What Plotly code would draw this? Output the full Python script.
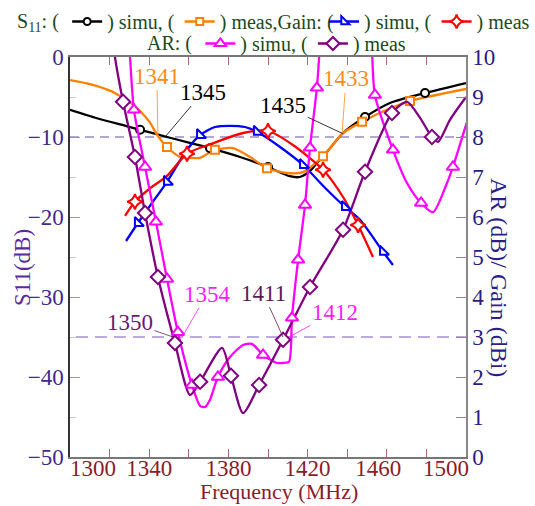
import plotly.graph_objects as go

# ---------------- data ----------------
# S11 simulated (black, circles) - left axis, dB
s11_sim_f = [1300, 1315, 1328, 1335.4, 1349, 1360, 1370.7, 1385.9, 1400, 1411, 1416,
             1421, 1424.7, 1430, 1437.9, 1449, 1461.6, 1479.3, 1500]
s11_sim = [-6.6, -7.75, -8.6, -9.1, -10.0, -10.7, -11.4, -12.5, -13.75, -14.9, -15.0,
           -14.3, -13.25, -11.8, -9.5, -7.5, -5.75, -4.5, -3.25]
s11_sim_mk = [3, 6, 8, 15, 17]

# S11 measured (orange, squares)
s11_meas_f = [1300, 1310, 1321, 1326, 1331, 1336, 1340.4, 1344.4, 1349, 1355.6, 1360.6,
              1365.7, 1370.7, 1373.2, 1382.3, 1390.9, 1399.5, 1409.6, 1417.7, 1427.8,
              1437.9, 1447.5, 1460, 1471.7, 1500]
s11_meas = [-2.9, -3.4, -4.3, -5.0, -5.8, -6.9, -8.2, -9.9, -11.25, -12.5, -12.6,
            -12.6, -11.9, -11.6, -11.4, -12.5, -13.9, -14.5, -14.4, -12.4,
            -9.5, -8.1, -6.6, -5.5, -4.0]
s11_meas_mk = [8, 13, 16, 19, 21, 23]

# Gain simulated (blue) - right axis, dBi
g_sim_f = [1328.3, 1334.3, 1341, 1349, 1359.1, 1365.7, 1373.2, 1380.8, 1388.4, 1394.4,
           1406.1, 1417.7, 1429.8, 1438.9, 1446.5, 1458.1, 1463.1]
g_sim = [5.4, 5.85, 6.32, 6.88, 7.68, 8.05, 8.25, 8.28, 8.25, 8.13,
         7.75, 7.3, 6.68, 6.25, 5.93, 5.13, 4.8]
g_sim_mk = [1, 3, 5, 9, 11, 13, 15]

# Gain measured (red)
g_meas_f = [1327.8, 1332.8, 1340, 1349, 1359.1, 1374.2, 1387.4, 1400, 1412.6, 1427.8,
            1437.9, 1445.5, 1453]
g_meas = [6.03, 6.38, 6.7, 7.03, 7.58, 7.88, 8.1, 8.15, 7.8, 7.18, 6.5, 5.8, 5.0]
g_meas_mk = [1, 4, 7, 9, 11]

# AR simulated (magenta, triangles)
ar_sim_f = [1328.5, 1330.3, 1332.3, 1337.9, 1343.4, 1349, 1354.5, 1361.6, 1365.7, 1368.2,
            1370.7, 1374.7, 1380.8, 1387.4, 1391.9, 1397.5, 1404.5, 1407.6, 1410.6, 1412.1,
            1415.2, 1418.7, 1421.2, 1424.7, 1427.5, 1440, 1451, 1452.5, 1454, 1463.1,
            1470.2, 1477.3, 1483.3, 1490.4, 1493.4, 1499.5, 1501]
ar_sim = [11.2, 10.0, 8.68, 7.25, 5.88, 4.45, 3.12, 1.8, 1.28, 1.25,
          1.43, 2.0, 2.5, 2.8, 2.83, 2.55, 2.35, 2.35, 2.38, 3.48,
          4.93, 6.3, 7.73, 9.23, 10.8, 13.0, 11.2, 10.17, 9.05, 7.68,
          6.85, 6.35, 6.12, 6.85, 7.25, 8.22, 8.45]
ar_sim_mk = [2, 3, 4, 5, 6, 7, 11, 15, 19, 20, 21, 22, 23, 28, 29, 31, 34]

# AR measured (purple, diamonds)
ar_meas_f = [1321, 1322.7, 1326.8, 1332.8, 1337.9, 1344.4, 1353, 1360.6, 1365.7, 1376.8,
             1381.3, 1387.4, 1395.5, 1407.6, 1421.2, 1437.9, 1449, 1462.6, 1470.2, 1476.8,
             1482.8, 1485.9, 1491.9, 1500]
ar_meas = [10.8, 10.0, 8.88, 7.5, 6.1, 4.5, 2.85, 1.55, 1.88, 2.73,
           2.03, 1.1, 1.8, 2.93, 4.25, 5.68, 7.13, 8.6, 8.88, 8.48,
           8.0, 7.88, 8.43, 9.0]
ar_meas_mk = [2, 3, 4, 5, 6, 8, 10, 12, 13, 14, 15, 16, 17, 20]

NB = "\u00a0"
x_ticks = list(range(1300, 1501, 20))
x_labels = {1300: NB * 8 + "1300", 1340: "1340", 1380: "1380", 1420: "1420",
            1460: "1460" + NB * 3, 1500: "1500" + NB * 7}
x_ticktext = [x_labels.get(v, "") for v in x_ticks]
s11_ticks = [-50, -40, -30, -20, -10, 0]
right_ticks = list(range(0, 11))

FONT = "Liberation Serif, Tinos, 'Times New Roman', 'DejaVu Serif', serif"

series = [
    # name, f, v, mk, color, symbol, msize, axis, legend
    (") simu, (", s11_sim_f, s11_sim, s11_sim_mk, "#000000", "circle", 8, "y", "legend"),
    (") meas,Gain: (", s11_meas_f, s11_meas, s11_meas_mk, "#ff8000", "square", 8, "y", "legend"),
    (") simu, (", g_sim_f, g_sim, g_sim_mk, "#0000ff", "triangle-sw", 10, "y2", "legend2"),
    (") meas", g_meas_f, g_meas, g_meas_mk, "#ff0000", "star-diamond", 11, "y2", "legend2"),
    (") simu, (", ar_sim_f, ar_sim, ar_sim_mk, "#ff00ff", "triangle-up", 11, "y2", "legend3"),
    (") meas", ar_meas_f, ar_meas, ar_meas_mk, "#800080", "diamond", 11, "y2", "legend3"),
]

fig = go.Figure()

# lines
for name, f, v, mk, col, sym, ms, ax, lg in series:
    fig.add_trace(go.Scatter(x=f, y=v, mode="lines", yaxis=ax, showlegend=False,
                             line=dict(color=col, width=2.3, shape="spline", smoothing=0.7),
                             hoverinfo="skip"))
# markers
for name, f, v, mk, col, sym, ms, ax, lg in series:
    fig.add_trace(go.Scatter(x=[f[i] for i in mk], y=[v[i] for i in mk], mode="markers",
                             yaxis=ax, showlegend=False,
                             marker=dict(symbol=sym, size=ms, color="white",
                                         line=dict(color=col, width=2))))
# legend entries
for name, f, v, mk, col, sym, ms, ax, lg in series:
    fig.add_trace(go.Scatter(x=[None], y=[None], mode="lines+markers", yaxis=ax,
                             name=name, legend=lg,
                             line=dict(color=col, width=2.5),
                             marker=dict(symbol=sym, size=ms - 1, color="white",
                                         line=dict(color=col, width=2))))

# reference dashed lines
fig.add_shape(type="line", xref="x", yref="y", x0=1300, x1=1500, y0=-10, y1=-10,
              line=dict(color="#6b4ca5", width=1.2, dash="9px,6px"), layer="below")
fig.add_shape(type="line", xref="x", yref="y2", x0=1303, x1=1500, y0=3, y1=3,
              line=dict(color="#a58ed2", width=1.6, dash="12px,7px"), layer="below")

# crossing labels
labels = [
    ("1341", 1344.4, -10, "y", -1, -61, "#ff8c1a"),
    ("1345", 1348, -10, "y", 38, -45, "#000000"),
    ("1435", 1438, -9.6, "y", -60, -28, "#000000"),
    ("1433", 1437.4, -9.6, "y", 4, -55, "#ff8c1a"),
    ("1350", 1352, 3.0, "y2", -43, -15, "#6b1a6b"),
    ("1354", 1356.6, 3.0, "y2", 25, -43, "#ff1aff"),
    ("1411", 1407.6, 3.0, "y2", -20, -44, "#5a1a5a"),
    ("1412", 1410.6, 3.0, "y2", 46, -25, "#ff1aff"),
]
for t, x, y, yr, ax_, ay_, col in labels:
    fig.add_annotation(x=x, y=y, xref="x", yref=yr, text=t, showarrow=True,
                       ax=ax_, ay=ay_, arrowhead=0, arrowwidth=0.8, arrowcolor=col,
                       standoff=0, font=dict(family=FONT, size=23, color=col))

# axis titles
fig.add_annotation(text="S11(dB)", xref="paper", yref="paper", x=(22 - 70) / 396,
                   y=(457 - 268) / 400, xanchor="center", yanchor="middle",
                   textangle=-90, showarrow=False,
                   font=dict(family=FONT, size=23, color="#5c2a9d"))
fig.add_annotation(text="AR (dB)/ Gain (dBi)", xref="paper", yref="paper",
                   x=(499 - 70) / 396, y=(457 - 278) / 400, xanchor="center", yanchor="middle",
                   textangle=90, showarrow=False,
                   font=dict(family=FONT, size=24, color="#2c1f86"))
fig.add_annotation(text="Frequency (MHz)", xref="paper", yref="paper",
                   x=(279 - 70) / 396, y=(457 - 492) / 400, xanchor="center", yanchor="middle",
                   showarrow=False, font=dict(family=FONT, size=22, color="#8a1c2a"))

leg_common = dict(orientation="h", xref="paper", yref="paper", yanchor="top",
                  bgcolor="rgba(0,0,0,0)", itemwidth=30, tracegroupgap=0,
                  font=dict(family=FONT, size=20, color="#1c4a1c"))

fig.update_layout(
    width=535, height=506, autosize=False,
    margin=dict(l=70, r=69, t=57, b=49, autoexpand=False),
    paper_bgcolor="white", plot_bgcolor="white",
    font=dict(family=FONT),
    xaxis=dict(range=[1300, 1500], tickvals=x_ticks, ticktext=x_ticktext,
               ticks="inside", ticklen=8, tickwidth=1.2, tickcolor="#b06878",
               ticklabelstandoff=-10,
               showline=True, linecolor="#777777", linewidth=1.5, mirror="ticks",
               showgrid=False, zeroline=False,
               tickfont=dict(family=FONT, size=23, color="#8a1c2a")),
    yaxis=dict(range=[-50, 0], tickvals=s11_ticks, ticks="inside", ticklen=10,
               tickwidth=1.2, tickcolor="#a08cc8",
               minor=dict(tickvals=[-45, -35, -25, -15, -5], ticks="inside", ticklen=6,
                          tickcolor="#c8c8c8"),
               showline=True, linecolor="#333333", linewidth=1.5, showgrid=False,
               zeroline=False, tickfont=dict(family=FONT, size=23, color="#402a90")),
    yaxis2=dict(range=[0, 10], tickvals=right_ticks, overlaying="y", side="right",
                ticks="inside", ticklen=10, tickwidth=1.2, tickcolor="#b07898",
                showline=True, linecolor="#888888", linewidth=1.5, showgrid=False,
                zeroline=False, tickfont=dict(family=FONT, size=23, color="#281c85")),
    legend=dict(x=(15 - 70) / 396, xanchor="left", y=(457 - 2) / 400,
                title=dict(text="S<sub>11</sub>: (", font=dict(family=FONT, size=20, color="#1c4a1c")),
                **leg_common),
    legend2=dict(x=(324 - 70) / 396, xanchor="left", y=(457 - 2) / 400, **leg_common),
    legend3=dict(x=(145 - 70) / 396, xanchor="left", y=(457 - 24) / 400,
                 title=dict(text="AR: (", font=dict(family=FONT, size=20, color="#1c4a1c")),
                 **leg_common),
)

fig.write_html("out.html")
